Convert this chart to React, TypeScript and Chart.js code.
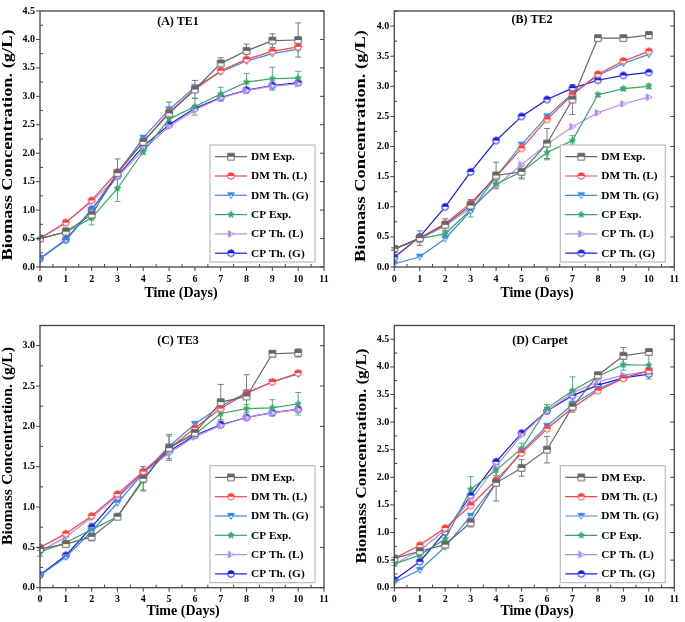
import { useEffect, useRef } from "react";
import { Chart, registerables } from "chart.js";
Chart.register(...registerables);

const DAYS = [0, 1, 2, 3, 4, 5, 6, 7, 8, 9, 10];
const SERIES_NAMES = ["DM Exp.", "DM Th. (L)", "DM Th. (G)", "CP Exp.", "CP Th. (L)", "CP Th. (G)"];
const SERIES_COLORS = ["#666666", "#ff4040", "#3a8ae8", "#33a865", "#b48cf0", "#1a1af2"];
const SERIES_SHAPES = ["square", "circle", "tri", "star", "rtri", "circle"];
const Y_TITLE = "Biomass Concentration. (g/L)";
const X_TITLE = "Time (Days)";

// (A) TE1
const TE1_DM_EXP = [0.5, 0.62, 0.92, 1.65, 2.2, 2.7, 3.12, 3.58, 3.8, 3.98, 3.99];
const TE1_DM_EXP_ERR = [0.02, 0.05, 0.06, 0.25, 0.06, 0.2, 0.16, 0.1, 0.12, 0.12, 0.3];
const TE1_DM_L = [0.5, 0.78, 1.17, 1.67, 2.2, 2.72, 3.12, 3.45, 3.65, 3.79, 3.87];
const TE1_DM_G = [0.15, 0.47, 1.0, 1.65, 2.27, 2.77, 3.16, 3.43, 3.62, 3.75, 3.83];
const TE1_CP_EXP = [0.5, 0.61, 0.86, 1.38, 2.03, 2.6, 2.82, 3.04, 3.25, 3.31, 3.32];
const TE1_CP_EXP_ERR = [0.02, 0.08, 0.12, 0.23, 0.05, 0.1, 0.15, 0.12, 0.15, 0.2, 0.12];
const TE1_CP_L = [0.5, 0.78, 1.15, 1.58, 2.06, 2.47, 2.76, 2.97, 3.1, 3.18, 3.22];
const TE1_CP_G = [0.15, 0.48, 1.01, 1.6, 2.12, 2.5, 2.79, 2.98, 3.11, 3.19, 3.24];

// (B) TE2
const TE2_DM_EXP = [0.3, 0.48, 0.7, 1.02, 1.52, 1.58, 2.05, 2.78, 3.8, 3.8, 3.85];
const TE2_DM_EXP_ERR = [0.02, 0.12, 0.1, 0.1, 0.22, 0.1, 0.25, 0.25, 0.02, 0.03, 0.06];
const TE2_DM_L = [0.3, 0.48, 0.72, 1.06, 1.5, 1.97, 2.45, 2.86, 3.2, 3.42, 3.58];
const TE2_DM_G = [0.05, 0.17, 0.47, 0.93, 1.5, 2.03, 2.5, 2.88, 3.18, 3.38, 3.53];
const TE2_CP_EXP = [0.3, 0.47, 0.55, 0.95, 1.38, 1.58, 1.9, 2.1, 2.86, 2.96, 3.0];
const TE2_CP_EXP_ERR = [0.02, 0.06, 0.05, 0.12, 0.05, 0.12, 0.12, 0.08, 0.03, 0.03, 0.04];
const TE2_CP_L = [0.3, 0.46, 0.68, 0.98, 1.35, 1.7, 2.04, 2.33, 2.56, 2.71, 2.82];
const TE2_CP_G = [0.16, 0.5, 1.0, 1.58, 2.1, 2.5, 2.78, 2.97, 3.1, 3.18, 3.23];

// (C) TE3
const TE3_DM_EXP = [0.48, 0.54, 0.63, 0.88, 1.35, 1.73, 1.92, 2.3, 2.37, 2.9, 2.91];
const TE3_DM_EXP_ERR = [0.02, 0.02, 0.05, 0.02, 0.15, 0.15, 0.05, 0.22, 0.27, 0.04, 0.05];
const TE3_DM_L = [0.5, 0.67, 0.89, 1.16, 1.44, 1.72, 1.98, 2.22, 2.41, 2.55, 2.66];
const TE3_DM_G = [0.15, 0.38, 0.7, 1.05, 1.42, 1.75, 2.03, 2.25, 2.42, 2.55, 2.65];
const TE3_CP_EXP = [0.44, 0.56, 0.72, 0.88, 1.33, 1.75, 1.9, 2.16, 2.22, 2.23, 2.28];
const TE3_CP_EXP_ERR = [0.05, 0.02, 0.08, 0.02, 0.12, 0.15, 0.04, 0.1, 0.05, 0.1, 0.14];
const TE3_CP_L = [0.45, 0.63, 0.87, 1.14, 1.42, 1.67, 1.87, 2.01, 2.11, 2.17, 2.21];
const TE3_CP_G = [0.16, 0.4, 0.75, 1.12, 1.43, 1.69, 1.89, 2.02, 2.11, 2.17, 2.21];

// (D) Carpet
const CAR_DM_EXP = [0.53, 0.66, 0.78, 1.18, 1.9, 2.17, 2.5, 3.28, 3.85, 4.2, 4.27];
const CAR_DM_EXP_ERR = [0.02, 0.03, 0.04, 0.08, 0.33, 0.15, 0.24, 0.1, 0.04, 0.15, 0.02];
const CAR_DM_L = [0.53, 0.77, 1.08, 1.49, 1.95, 2.44, 2.88, 3.26, 3.57, 3.79, 3.93];
const CAR_DM_G = [0.1, 0.32, 0.74, 1.3, 1.9, 2.47, 2.93, 3.32, 3.6, 3.8, 3.93];
const CAR_CP_EXP = [0.43, 0.59, 0.88, 1.78, 2.13, 2.52, 3.25, 3.57, 3.83, 4.04, 4.03];
const CAR_CP_EXP_ERR = [0.03, 0.03, 0.1, 0.23, 0.1, 0.1, 0.07, 0.25, 0.05, 0.1, 0.25];
const CAR_CP_L = [0.43, 0.67, 1.05, 1.58, 2.2, 2.76, 3.2, 3.53, 3.73, 3.85, 3.92];
const CAR_CP_G = [0.14, 0.47, 1.01, 1.67, 2.28, 2.8, 3.2, 3.48, 3.67, 3.8, 3.87];

type Panel = {
  title: string;
  yTop: number;
  yMax: number;
  series: number[][];
  errs: (number[] | null)[];
  canvas: { left: number; top: number; w: number; h: number };
  area: { l: number; t: number; r: number; b: number };
  titlePos: [number, number];
  yTitle: { cx: number; cy: number; len: number };
  xTitle: [number, number];
};

const PANELS: Panel[] = [
  {
    title: "(A) TE1", yTop: 4.5, yMax: 4.5,
    series: [TE1_DM_EXP, TE1_DM_L, TE1_DM_G, TE1_CP_EXP, TE1_CP_L, TE1_CP_G],
    errs: [TE1_DM_EXP_ERR, null, null, TE1_CP_EXP_ERR, null, null],
    canvas: { left: 0, top: 0, w: 340, h: 305 },
    area: { l: 40, t: 6.7, r: 324, b: 267 },
    titlePos: [178, 22], yTitle: { cx: 8, cy: 145, len: 231 }, xTitle: [181, 293],
  },
  {
    title: "(B) TE2", yTop: 4.0, yMax: 4.25,
    series: [TE2_DM_EXP, TE2_DM_L, TE2_DM_G, TE2_CP_EXP, TE2_CP_L, TE2_CP_G],
    errs: [TE2_DM_EXP_ERR, null, null, TE2_CP_EXP_ERR, null, null],
    canvas: { left: 345, top: 0, w: 340, h: 305 },
    area: { l: 394.3, t: 5.6, r: 678, b: 267 },
    titlePos: [532, 20], yTitle: { cx: 361.5, cy: 146, len: 232 }, xTitle: [537, 293],
  },
  {
    title: "(C) TE3", yTop: 3.0, yMax: 3.25,
    series: [TE3_DM_EXP, TE3_DM_L, TE3_DM_G, TE3_CP_EXP, TE3_CP_L, TE3_CP_G],
    errs: [TE3_DM_EXP_ERR, null, null, TE3_CP_EXP_ERR, null, null],
    canvas: { left: 0, top: 305, w: 340, h: 317 },
    area: { l: 40, t: 325.5, r: 324, b: 587.7 },
    titlePos: [178, 341], yTitle: { cx: 8, cy: 446, len: 198 }, xTitle: [183, 611],
  },
  {
    title: "(D) Carpet", yTop: 4.5, yMax: 4.75,
    series: [CAR_DM_EXP, CAR_DM_L, CAR_DM_G, CAR_CP_EXP, CAR_CP_L, CAR_CP_G],
    errs: [CAR_DM_EXP_ERR, null, null, CAR_CP_EXP_ERR, null, null],
    canvas: { left: 345, top: 305, w: 340, h: 317 },
    area: { l: 394.3, t: 325.5, r: 678, b: 587.7 },
    titlePos: [540, 341], yTitle: { cx: 362, cy: 456, len: 215 }, xTitle: [537, 611],
  },
];

const SERIF = '"Liberation Serif", "Times New Roman", serif';

function shapePath(g: CanvasRenderingContext2D, shape: string, cx: number, cy: number, r: number) {
  g.beginPath();
  if (shape === "square") {
    g.rect(cx - r, cy - r, 2 * r, 2 * r);
  } else if (shape === "circle") {
    g.arc(cx, cy, r, 0, Math.PI * 2);
  } else if (shape === "tri") {
    g.moveTo(cx - r, cy - r * 0.8);
    g.lineTo(cx + r, cy - r * 0.8);
    g.lineTo(cx, cy + r);
    g.closePath();
  } else if (shape === "rtri") {
    g.moveTo(cx - r * 0.8, cy - r);
    g.lineTo(cx + r, cy);
    g.lineTo(cx - r * 0.8, cy + r);
    g.closePath();
  } else {
    for (let i = 0; i < 10; i++) {
      const a = -Math.PI / 2 + (i * Math.PI) / 5;
      const rr = i % 2 === 0 ? r : r * 0.45;
      const px = cx + rr * Math.cos(a);
      const py = cy + rr * Math.sin(a);
      if (i === 0) g.moveTo(px, py);
      else g.lineTo(px, py);
    }
    g.closePath();
  }
}

function makeMarker(shape: string, color: string) {
  const size = 10;
  const c = document.createElement("canvas");
  c.width = size;
  c.height = size;
  const g = c.getContext("2d")!;
  const cx = size / 2, cy = size / 2, r = 3.3;
  shapePath(g, shape, cx, cy, r);
  g.fillStyle = "#fff";
  g.fill();
  g.save();
  g.beginPath();
  if (shape === "rtri") g.rect(0, 0, cx, size);
  else if (shape === "star") g.rect(0, 0, size, size);
  else g.rect(0, 0, size, cy);
  g.clip();
  shapePath(g, shape, cx, cy, r);
  g.fillStyle = color;
  g.fill();
  g.restore();
  shapePath(g, shape, cx, cy, r);
  g.strokeStyle = color;
  g.lineWidth = 1;
  g.stroke();
  return c;
}

function ChartPanel({ p }: { p: Panel }) {
  const ref = useRef<HTMLCanvasElement | null>(null);
  useEffect(() => {
    const canvas = ref.current!;
    const markers = SERIES_SHAPES.map((s, i) => makeMarker(s, SERIES_COLORS[i]));
    const cv = p.canvas;
    const ox = cv.left, oy = cv.top;
    const padTop = p.area.t - cv.top;
    const padRight = cv.left + cv.w - p.area.r;
    const yW = p.area.l - cv.left;
    const xH = cv.top + cv.h - p.area.b;

    const decor = {
      id: "decor",
      beforeDatasetsDraw(chart: any) {
        const ctx = chart.ctx as CanvasRenderingContext2D;
        const ys = chart.scales.y;
        chart.data.datasets.forEach((ds: any, i: number) => {
          if (!ds.errs) return;
          const meta = chart.getDatasetMeta(i);
          ctx.save();
          ctx.strokeStyle = ds.borderColor;
          ctx.globalAlpha = 0.85;
          ctx.lineWidth = 1;
          ds.data.forEach((pt: any, j: number) => {
            const e = ds.errs[j];
            if (!e) return;
            const x = meta.data[j].x;
            const y1 = ys.getPixelForValue(pt.y + e);
            const y2 = ys.getPixelForValue(pt.y - e);
            ctx.beginPath();
            ctx.moveTo(x, y1);
            ctx.lineTo(x, y2);
            ctx.moveTo(x - 3, y1);
            ctx.lineTo(x + 3, y1);
            ctx.moveTo(x - 3, y2);
            ctx.lineTo(x + 3, y2);
            ctx.stroke();
          });
          ctx.restore();
        });
      },
      afterDraw(chart: any) {
        const ctx = chart.ctx as CanvasRenderingContext2D;
        const a = chart.chartArea;
        const xs = chart.scales.x, ys = chart.scales.y;
        ctx.save();
        // frame
        ctx.strokeStyle = "#444";
        ctx.lineWidth = 1.3;
        ctx.strokeRect(a.left, a.top, a.right - a.left, a.bottom - a.top);
        // ticks
        ctx.lineWidth = 1;
        ctx.beginPath();
        for (let v = 0; v <= 11 + 1e-9; v += 0.5) {
          const x = xs.getPixelForValue(v);
          const major = Math.abs(v - Math.round(v)) < 1e-9;
          if (major) {
            ctx.moveTo(x, a.bottom);
            ctx.lineTo(x, a.bottom + 4);
          } else {
            ctx.moveTo(x, a.bottom);
            ctx.lineTo(x, a.bottom - 3);
          }
        }
        for (let v = 0; v <= p.yMax + 1e-9; v += 0.25) {
          const y = ys.getPixelForValue(v);
          const major = Math.abs(v * 2 - Math.round(v * 2)) < 1e-9;
          if (major) {
            ctx.moveTo(a.left - 4, y);
            ctx.lineTo(a.left, y);
            ctx.moveTo(a.right, y);
            ctx.lineTo(a.right - 4, y);
          } else {
            ctx.moveTo(a.left, y);
            ctx.lineTo(a.left + 3, y);
          }
        }
        ctx.stroke();

        // titles
        ctx.fillStyle = "#000";
        ctx.textAlign = "center";
        ctx.textBaseline = "middle";
        ctx.font = `bold 12px ${SERIF}`;
        ctx.fillText(p.title, p.titlePos[0] - ox, p.titlePos[1] - oy);
        ctx.font = `bold 14px ${SERIF}`;
        ctx.fillText(X_TITLE, p.xTitle[0] - ox, p.xTitle[1] - oy);
        const tw = ctx.measureText(Y_TITLE).width;
        ctx.save();
        ctx.translate(p.yTitle.cx - ox, p.yTitle.cy - oy);
        ctx.rotate(-Math.PI / 2);
        ctx.scale(p.yTitle.len / tw, 1);
        ctx.fillText(Y_TITLE, 0, 0);
        ctx.restore();

        // legend
        const bw = 105, bh = 117;
        const bx = a.right - 9 - bw;
        const by = a.bottom - 5 - bh;
        ctx.fillStyle = "#fff";
        ctx.fillRect(bx, by, bw, bh);
        ctx.strokeStyle = "#b0b0b0";
        ctx.lineWidth = 1;
        ctx.strokeRect(bx, by, bw, bh);
        ctx.textAlign = "left";
        ctx.font = `bold 11.3px ${SERIF}`;
        SERIES_NAMES.forEach((name, i) => {
          const ry = by + 11.7 + i * 19.3;
          ctx.strokeStyle = SERIES_COLORS[i];
          ctx.lineWidth = 1.2;
          ctx.beginPath();
          ctx.moveTo(bx + 5, ry);
          ctx.lineTo(bx + 37, ry);
          ctx.stroke();
          ctx.drawImage(markers[i], bx + 21 - 5, ry - 5);
          ctx.fillStyle = "#000";
          ctx.fillText(name, bx + 41, ry + 0.5);
        });
        ctx.restore();
      },
    };

    const datasets = p.series.map((vals, i) => ({
      label: SERIES_NAMES[i],
      data: DAYS.map((d, j) => ({ x: d, y: vals[j] })),
      errs: p.errs[i],
      borderColor: SERIES_COLORS[i],
      backgroundColor: SERIES_COLORS[i],
      borderWidth: 1.2,
      pointStyle: markers[i],
      pointRadius: 4,
      tension: 0,
      fill: false,
    }));

    const tickFont = { family: SERIF, size: 10, weight: "bold" as const };
    const chart = new Chart(canvas, {
      type: "line",
      data: { datasets: datasets as any },
      options: {
        animation: false,
        responsive: false,
        maintainAspectRatio: false,
        layout: { padding: { top: padTop, right: padRight, left: 0, bottom: 0 } },
        plugins: { legend: { display: false }, title: { display: false }, tooltip: { enabled: false } },
        scales: {
          x: {
            type: "linear", min: 0, max: 11,
            ticks: { stepSize: 1, font: tickFont, color: "#000", padding: 6, maxRotation: 0, autoSkip: false },
            grid: { display: false, drawTicks: false, tickLength: 0 }, border: { display: false },
            afterFit: (s: any) => { s.height = xH; },
          },
          y: {
            type: "linear", min: 0, max: p.yMax,
            ticks: { stepSize: 0.5, font: tickFont, color: "#000", padding: 5, callback: (v: any) => Number(v).toFixed(1) },
            afterBuildTicks: (s: any) => { s.ticks = s.ticks.filter((t: any) => t.value <= p.yTop + 1e-9); },
            grid: { display: false, drawTicks: false, tickLength: 0 }, border: { display: false },
            afterFit: (s: any) => { s.width = yW; },
          },
        },
      },
      plugins: [decor],
    } as any);
    return () => chart.destroy();
  }, [p]);
  return (
    <canvas
      ref={ref}
      width={p.canvas.w}
      height={p.canvas.h}
      style={{ position: "absolute", left: p.canvas.left, top: p.canvas.top, width: p.canvas.w, height: p.canvas.h }}
    />
  );
}

export default function App() {
  return (
    <div style={{ position: "absolute", left: 0, top: 0, width: 685, height: 622, background: "#fff", overflow: "hidden" }}>
      {PANELS.map((p) => (
        <ChartPanel key={p.title} p={p} />
      ))}
    </div>
  );
}
